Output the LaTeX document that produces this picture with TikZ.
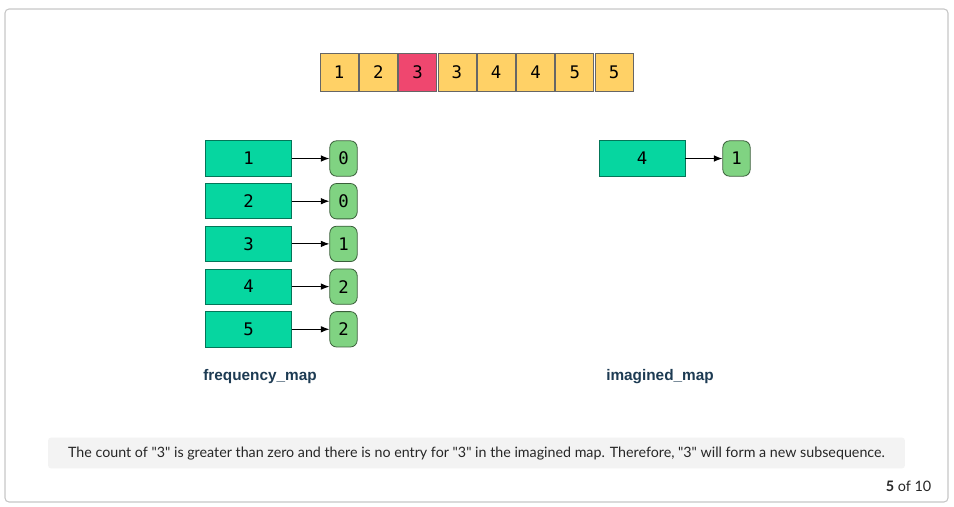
\documentclass[tikz,border=0pt]{standalone}
\usepackage{fontspec}
\setmainfont{Lato}[Ligatures=TeXOff]
\newfontfamily\monof{DejaVu Sans Mono}
\newfontfamily\labf{Liberation Sans}
\usetikzlibrary{arrows.meta}
\definecolor{cyel}{HTML}{FFD166}
\definecolor{cred}{HTML}{EF476F}
\definecolor{cteal}{HTML}{06D6A0}
\definecolor{cval}{HTML}{80D382}
\definecolor{cnavy}{HTML}{1D3B53}
\definecolor{ccap}{HTML}{F3F3F3}
\begin{document}
\begin{tikzpicture}[x=0.75pt,y=-0.75pt,
  cell/.style={draw=black!60, line width=0.6pt, fill=cyel, minimum width=28.5pt, minimum height=28.5pt, inner sep=0pt, font=\monof\fontsize{13}{15}\selectfont},
  keybox/.style={draw=black!45!cteal, line width=0.6pt, fill=cteal, minimum width=64.5pt, minimum height=26.5pt, inner sep=0pt, font=\monof\fontsize{13}{15}\selectfont},
  valbox/.style={draw=black!55!cval, line width=0.6pt, fill=cval, rounded corners=5pt, minimum width=20.5pt, minimum height=26.5pt, inner sep=0pt, font=\monof\fontsize{13}{15}\selectfont},
  link/.style={-{Latex[length=6.5pt,width=5pt]}, line width=0.75pt},
  maplabel/.style={font=\labf\bfseries\fontsize{11.5}{13}\selectfont, text=cnavy}]
\useasboundingbox (0,0) rectangle (954,507);
\draw[draw=black!22, line width=0.8pt, rounded corners=3pt, fill=white] (5,9) rectangle (948,502);
% top array
\foreach \v [count=\i] in {1,2,3,3,4,4,5,5} {
  \pgfmathsetmacro{\xx}{339+(\i-1)*39.3}
  \ifnum\i=3
    \node[cell, fill=cred] (a\i) at (\xx,72) {\v};
  \else
    \node[cell] (a\i) at (\xx,72) {\v};
  \fi
}
% frequency map
\foreach \k/\val [count=\i] in {1/0,2/0,3/1,4/2,5/2} {
  \pgfmathsetmacro{\yy}{158.5+(\i-1)*42.7}
  \node[keybox] (k\i) at (248.5,\yy) {\k};
  \node[valbox] (v\i) at (343.5,\yy) {\val};
  \draw[link] (k\i) -- (v\i);
}
\node[maplabel] (fl) at (260,377) {frequency\_map};
% imagined map
\node[keybox] (ik) at (642,158.5) {4};
\node[valbox] (iv) at (736.5,158.5) {1};
\draw[link] (ik) -- (iv);
\node[maplabel] (il) at (660,377) {imagined\_map};
% caption
\node[fill=ccap, rounded corners=2pt, minimum width=642.5pt, minimum height=23pt, inner sep=0pt] (cap) at (476.5,453) {};
\node[font=\fontsize{10.7}{12}\selectfont, text=black!85] (capt) at (476.5,453.5) {The count of "3" is greater than zero and there is no entry for "3" in the imagined map. Therefore, "3" will form a new subsequence.};
\node[font=\fontsize{10.8}{12}\selectfont, text=black!85, anchor=east] (pg) at (936,486) {\textbf{5} of 10};
\end{tikzpicture}
\end{document}
